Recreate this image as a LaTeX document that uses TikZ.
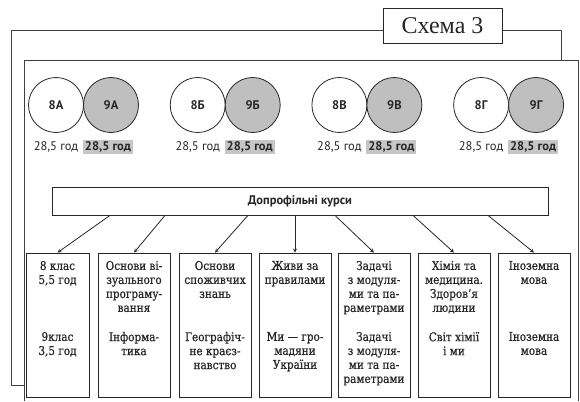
\documentclass[tikz,border=0pt]{standalone}
\usepackage{fontspec}
\setmainfont{DejaVu Serif}
\newfontfamily\boxfont[FakeStretch=0.87,FakeBold=0.6]{DejaVu Serif}
\newfontfamily\labfont{PT Sans}
\newfontfamily\titlefont{Liberation Serif}
\usetikzlibrary{positioning}
\begin{document}
\begin{tikzpicture}[>=stealth, x=1pt, y=-1pt, line width=0.8pt, color=black!85,
    klas/.style={circle, draw, minimum size=55pt, inner sep=0pt, outer sep=0pt, font=\labfont\bfseries\fontsize{12.5}{13}\selectfont},
    hours/.style={inner sep=2pt, font=\labfont\fontsize{12.5}{13}\selectfont},
    course/.style={draw, minimum height=144pt, inner sep=0pt},
    ctext/.style={align=center, inner sep=0pt, font=\boxfont\fontsize{12}{14}\selectfont}]
    \useasboundingbox (0,0) rectangle (580,401);
    \draw[black!75] (24,385) -- (11,385) -- (11,30) -- (561,30) -- (561,60);
    \draw[black!75] (24,401) -- (24,60) -- (578,60) -- (578,401);
    \node[draw, fill=white, minimum width=119pt, minimum height=35pt, inner sep=0pt, font=\titlefont\fontsize{24}{25}\selectfont] (schema) at (442.5,25.5) {Схема 3};
    \foreach \i/\cl in {0/А,1/Б,2/В,3/Г} {
        \node[klas] (k8\i) at (56+141.7*\i,105) {8\cl};
        \node[klas, fill=gray!50, right=0pt of k8\i] (k9\i) {9\cl};
        \node[hours] (h8\i) at ([yshift=-42pt]k8\i.center) {28,5 год};
        \node[hours, fill=gray!45, right=2pt of h8\i, font=\labfont\bfseries\fontsize{12.5}{13}\selectfont] (h9\i) {28,5 год};
    }
    \node[draw, minimum width=496pt, minimum height=28pt, font=\labfont\bfseries\fontsize{12.5}{13}\selectfont] (dk) at (300,201) {Допрофільні курси};
    \node[course, minimum width=63pt] (c1) at (57.5,325) {};
    \node[course, minimum width=72pt] (c2) at (134,325) {};
    \node[course, minimum width=72pt] (c3) at (215,325) {};
    \node[course, minimum width=72pt] (c4) at (295,325) {};
    \node[course, minimum width=72pt] (c5) at (374,325) {};
    \node[course, minimum width=72pt] (c6) at (454,325) {};
    \node[course, minimum width=72pt] (c7) at (534,325) {};
    \node[ctext, below=8pt of c1.north] {8 клас\\5,5 год};
    \node[ctext, below=79pt of c1.north] {9клас\\3,5 год};
    \node[ctext, below=8pt of c2.north] {Основи ві-\\зуального\\програму-\\вання};
    \node[ctext, below=79pt of c2.north] {Інформа-\\тика};
    \node[ctext, below=8pt of c3.north] {Основи\\споживчих\\знань};
    \node[ctext, below=79pt of c3.north] {Географіч-\\не краєз-\\навство};
    \node[ctext, below=8pt of c4.north] {Живи за\\правилами};
    \node[ctext, below=79pt of c4.north] {Ми — гро-\\мадяни\\України};
    \node[ctext, below=8pt of c5.north] {Задачі\\з модуля-\\ми та па-\\раметрами};
    \node[ctext, below=79pt of c5.north] {Задачі\\з модуля-\\ми та па-\\раметрами};
    \node[ctext, below=8pt of c6.north] {Хімія та\\медицина.\\Здоров’я\\людини};
    \node[ctext, below=79pt of c6.north] {Світ хімії\\і ми};
    \node[ctext, below=8pt of c7.north] {Іноземна\\мова};
    \node[ctext, below=79pt of c7.north] {Іноземна\\мова};
    \foreach \s/\c in {-190/c1,-135/c2,-52/c3,-5/c4,35/c5,113/c6,188/c7}
        \draw[->] ([xshift=\s pt]dk.south) -- (\c.north);
\end{tikzpicture}
\end{document}
